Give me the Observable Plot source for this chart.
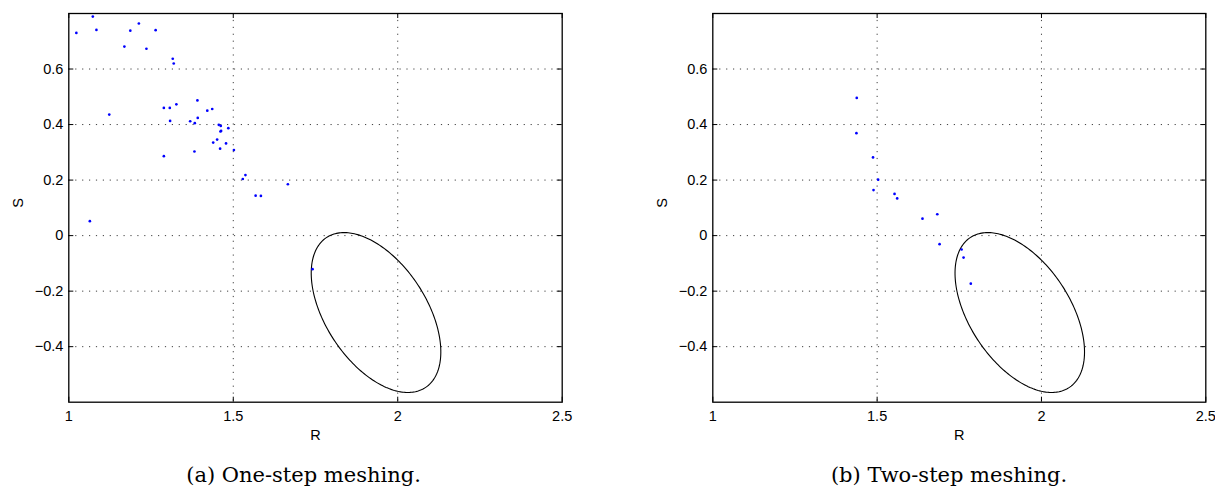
<!DOCTYPE html>
<html><head><meta charset="utf-8">
<script src="https://cdn.jsdelivr.net/npm/d3@7"></script>
<script src="https://cdn.jsdelivr.net/npm/@observablehq/plot@0.6"></script>
<style>
body{margin:0;background:#fff;}
#wrap{position:relative;width:1215px;height:491px;overflow:hidden;background:#fff;}
.panel{position:absolute;top:0;}
.cap{position:absolute;font-family:"DejaVu Serif",serif;font-size:21px;line-height:1;white-space:nowrap;transform:translateX(-50%);color:#000;}
</style></head><body><div id="wrap"></div>
<script>
const xTicks = [1, 1.5, 2, 2.5];
const yTicks = [-0.4, -0.2, 0, 0.2, 0.4, 0.6];
const xDomain = [1, 2.5];
const yDomain = [-0.6, 0.8];
const xLabel = "R";
const yLabel = "S";
const captions = ["(a) One-step meshing.", "(b) Two-step meshing."];

const oneStepR = [1.023,1.073,1.084,1.123,1.169,1.187,1.213,1.236,1.264,1.316,1.319,1.289,1.307,1.327,1.308,1.289,1.391,1.369,1.383,1.392,1.382,1.421,1.436,1.456,1.462,1.463,1.461,1.485,1.451,1.439,1.478,1.460,1.502,1.529,1.537,1.568,1.584,1.666,1.064,1.741];
const oneStepS = [0.730,0.789,0.741,0.436,0.681,0.738,0.764,0.673,0.740,0.637,0.620,0.460,0.460,0.473,0.413,0.286,0.487,0.412,0.405,0.424,0.303,0.450,0.456,0.399,0.395,0.377,0.375,0.387,0.346,0.335,0.332,0.313,0.308,0.204,0.218,0.144,0.143,0.185,0.052,-0.121];

const twoStepR = [1.438,1.437,1.4875,1.503,1.489,1.553,1.561,1.638,1.683,1.690,1.757,1.763,1.785];
const twoStepS = [0.496,0.369,0.2815,0.2014,0.164,0.150,0.134,0.061,0.077,-0.031,-0.050,-0.079,-0.173];

// ellipse (same in both panels): centre and shape parameters
const ellipseCenter = [1.934, -0.277];
const ellipseHalfR = 0.197;      // half-width along R
const ellipseShearS = -0.1418;   // S offset coupled to R
const ellipseHalfS = 0.2506;     // independent S half-extent

function ellipsePath() {
  return d3.range(0, 241).map(i => {
    const t = 2 * Math.PI * i / 240;
    return {R: ellipseCenter[0] + ellipseHalfR * Math.cos(t),
            S: ellipseCenter[1] + ellipseShearS * Math.cos(t) + ellipseHalfS * Math.sin(t)};
  });
}

const fmt = d => String(d).replace("-", "\u2212");

function panel(Rs, Ss, width, marginRight) {
  const marginLeft = 68.3, marginTop = 13, height = 450, marginBottom = 48.3;
  const fw = width - marginLeft - marginRight;
  const fh = height - marginTop - marginBottom;
  const pts = Rs.map((r, i) => ({R: r, S: Ss[i]}));
  const grid = {stroke: "#000", strokeOpacity: 0.75, strokeWidth: 1, strokeDasharray: "1.2,5.7"};
  return Plot.plot({
    width, height, marginLeft, marginRight, marginTop, marginBottom,
    x: {domain: xDomain},
    y: {domain: yDomain},
    style: {fontFamily: "'Liberation Sans', Arial, sans-serif", fontSize: "14.5px", color: "#000", background: "#fff", overflow: "visible"},
    marks: [
      Plot.ruleX(xTicks.slice(1, -1), grid),
      Plot.ruleY(yTicks, grid),
      Plot.line(ellipsePath(), {x: "R", y: "S", stroke: "#000", strokeWidth: 1.1}),
      Plot.dot(pts, {x: "R", y: "S", r: 1.35, fill: "#0000ff", stroke: "none"}),
      Plot.ruleX(xTicks, {insetTop: fh - 5, stroke: "#000"}),
      Plot.ruleX(xTicks, {insetBottom: fh - 5, stroke: "#000"}),
      Plot.ruleY(yTicks, {insetRight: fw - 5, stroke: "#000"}),
      Plot.ruleY(yTicks, {insetLeft: fw - 5, stroke: "#000"}),
      Plot.frame({stroke: "#000", strokeWidth: 1.3}),
      Plot.axisX({ticks: xTicks, tickSize: 0, tickPadding: 9, label: null, tickFormat: fmt}),
      Plot.axisY({ticks: yTicks, tickSize: 0, tickPadding: 5.5, label: null, tickFormat: fmt}),
      Plot.text([xLabel], {text: d => d, frameAnchor: "bottom", dy: 33, lineAnchor: "middle", fontSize: 14.5}),
      Plot.text([yLabel], {text: d => d, frameAnchor: "left", dx: -50, rotate: -90, lineAnchor: "middle", fontSize: 14.5})
    ]
  });
}

const wrap = document.getElementById("wrap");
const p1 = panel(oneStepR, oneStepS, 607, 45.3);
p1.classList.add("panel"); p1.style.left = "0px";
wrap.appendChild(p1);
const p2 = panel(twoStepR, twoStepS, 571, 9.7);
p2.classList.add("panel"); p2.style.left = "644px";
wrap.appendChild(p2);

[[303.5, captions[0]], [949, captions[1]]].forEach(([cx, t]) => {
  const d = document.createElement("div");
  d.className = "cap";
  d.textContent = t;
  d.style.left = cx + "px";
  d.style.top = "465px";
  wrap.appendChild(d);
});
</script></body></html>
